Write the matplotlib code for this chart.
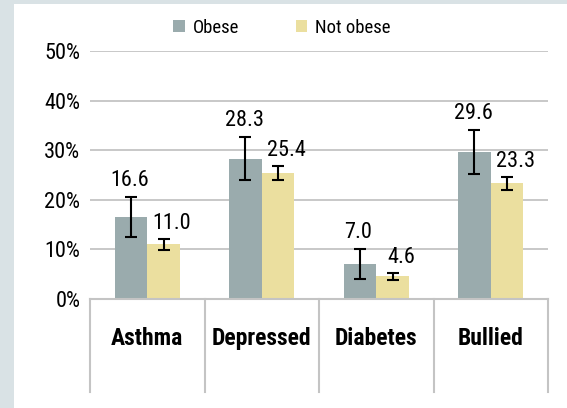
import numpy as np
import matplotlib.pyplot as plt
from matplotlib.patches import Rectangle

categories = ['Asthma', 'Depressed', 'Diabetes', 'Bullied']
obese = [16.6, 28.3, 7.0, 29.6]
not_obese = [11.0, 25.4, 4.6, 23.3]
obese_err = [4.0, 4.3, 3.0, 4.4]
not_obese_err = [1.1, 1.4, 0.7, 1.3]
series_names = ['Obese', 'Not obese']

plt.rcParams['font.family'] = ['Roboto Condensed', 'Sofia Sans Condensed', 'DejaVu Sans']
plt.rcParams['font.stretch'] = 'condensed'

c_obese = '#9aabad'
c_not = '#ebdf9f'
W, H = 567, 408

fig = plt.figure(figsize=(W / 100, H / 100), dpi=100)
fig.patch.set_facecolor('#d9e2e5')
fig.patches.append(Rectangle((14 / W, 0), 1, 1 - 4 / H, transform=fig.transFigure,
                             facecolor='white', edgecolor='none', zorder=-10))

ax = fig.add_axes([90 / W, 109 / H, 458 / W, 248 / H])
ax.set_facecolor('none')
x = np.arange(len(categories))
bw = 0.285
ax.bar(x - bw / 2, obese, bw, color=c_obese, label=series_names[0], zorder=2)
ax.bar(x + bw / 2, not_obese, bw, color=c_not, label=series_names[1], zorder=2)
ax.errorbar(x - bw / 2, obese, yerr=obese_err, fmt='none', ecolor='black',
            elinewidth=1.5, capsize=4, capthick=1.5, zorder=3)
ax.errorbar(x + bw / 2, not_obese, yerr=not_obese_err, fmt='none', ecolor='black',
            elinewidth=1.5, capsize=4, capthick=1.5, zorder=3)
for xi, v, e in zip(x - bw / 2, obese, obese_err):
    ax.annotate('%.1f' % v, (xi, v + e), xytext=(-1, 8), textcoords='offset points',
                ha='center', va='baseline', fontsize=16)
for xi, v, e in zip(x + bw / 2, not_obese, not_obese_err):
    ax.annotate('%.1f' % v, (xi, v + e), xytext=(6, 7), textcoords='offset points',
                ha='center', va='baseline', fontsize=16)

ax.set_xlim(-0.5, len(categories) - 0.5)
ax.set_ylim(0, 50)
ax.set_yticks(np.arange(0, 51, 10))
ax.set_yticklabels(['%d%%' % t for t in range(0, 51, 10)], fontsize=16)
ax.set_xticks([])
ax.tick_params(axis='y', length=0, pad=7)
ax.yaxis.grid(True, color='#c4c4c4', linewidth=1.3, zorder=1)
ax.set_axisbelow(True)
for s in ax.spines.values():
    s.set_visible(False)

# category boxes under the plot
tb = fig.add_axes([90 / W, 16 / H, 458 / W, 93 / H], sharex=ax)
tb.set_facecolor('none')
tb.set_ylim(0, 1)
tb.axis('off')
tb.axhline(1, color='#c4c4c4', linewidth=1.5, clip_on=False)
for b in np.arange(-0.5, len(categories), 1.0):
    tb.axvline(b, color='#c4c4c4', linewidth=1.5, clip_on=False)
for xi, c in zip(x, categories):
    tb.text(xi, 0.58, c, ha='center', va='center', fontsize=17, fontweight='bold')

fig.legend(loc='center', bbox_to_anchor=(282 / W, 1 - 28 / H), ncol=2, frameon=False,
           fontsize=13.5, handlelength=0.6, handleheight=0.6, columnspacing=3.0,
           handletextpad=0.45)

fig.savefig('out.png', dpi=100, facecolor=fig.get_facecolor())
